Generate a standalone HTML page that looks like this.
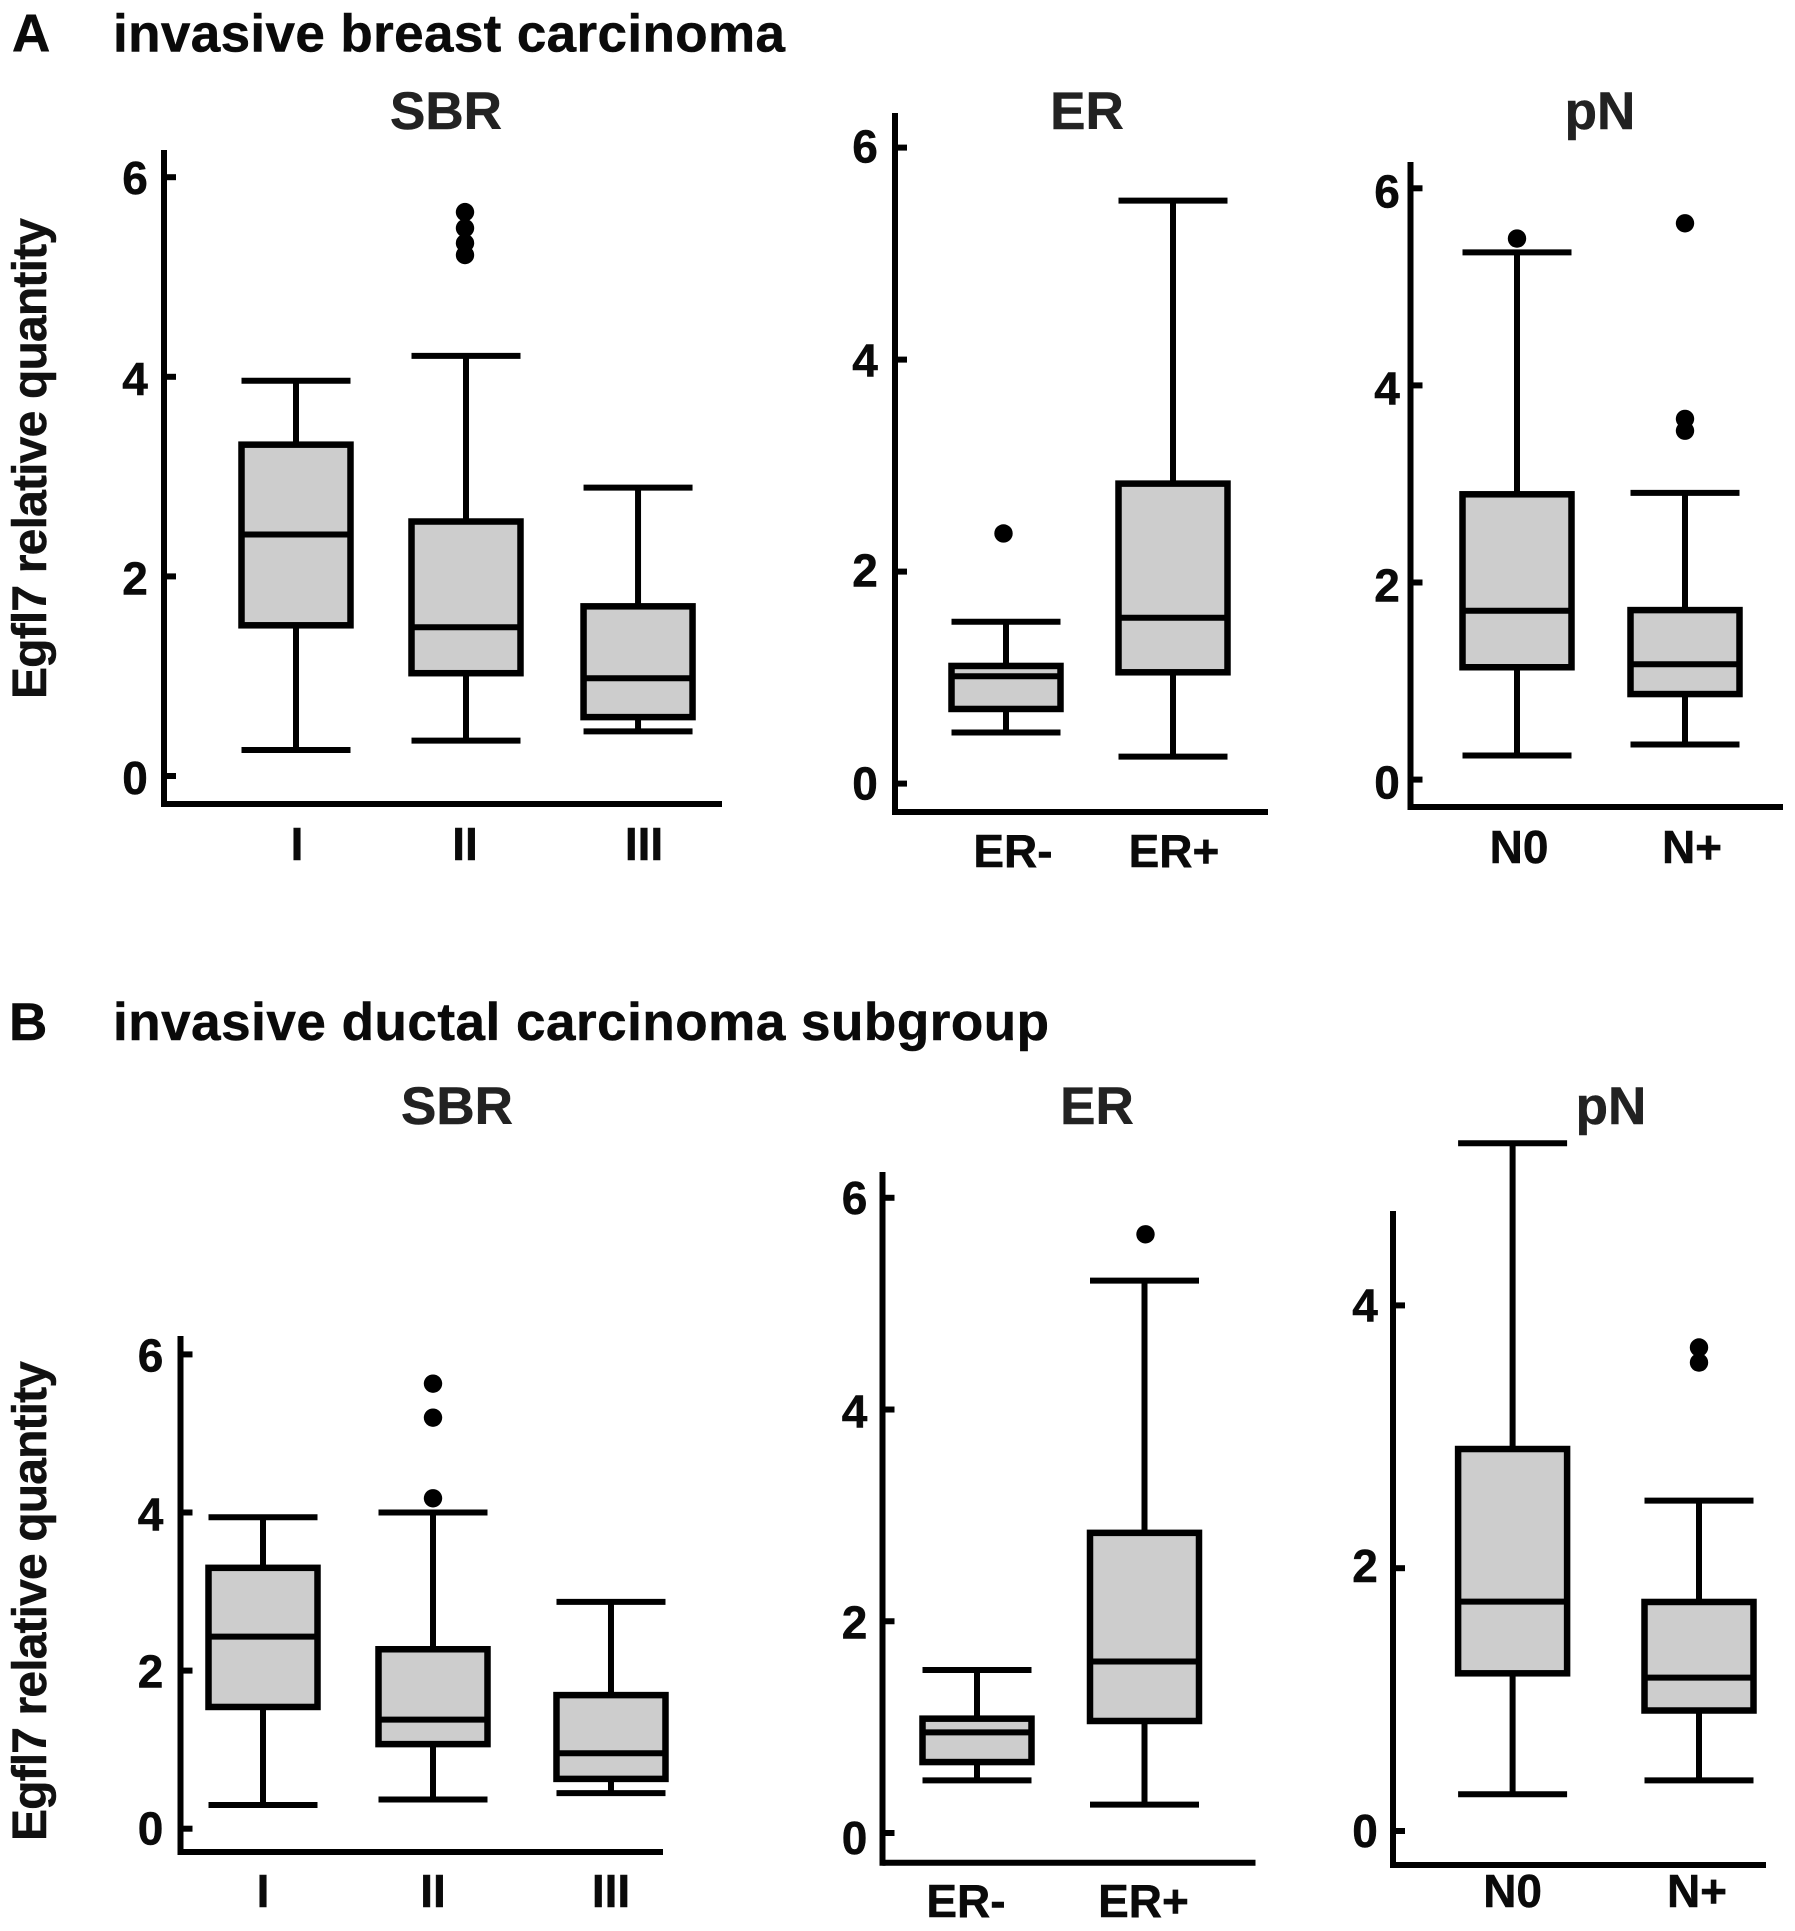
<!DOCTYPE html>
<html lang="en">
<head>
<meta charset="utf-8">
<title>Egfl7 relative quantity box plots</title>
<style>
  html, body { margin: 0; padding: 0; background: #ffffff; }
  svg { display: block; font-family: "Liberation Sans", Arial, sans-serif; font-weight: bold; }
  text { fill: #0a0a0a; stroke: #0a0a0a; stroke-width: 0.5px; }
  .panel-title { fill: #222222; stroke: #222222; font-size: 53px; text-anchor: middle; }
  .heading { font-size: 53px; }
  .y-title { font-size: 48px; fill: #111111; stroke: #111111; }
</style>
</head>
<body>
<svg id="figure" xmlns="http://www.w3.org/2000/svg" width="1795" height="1931" viewBox="0 0 1795 1931">
  <rect x="0" y="0" width="1795" height="1931" fill="#ffffff"/>

  <text class="heading" x="12" y="51.5">A</text>
  <text class="heading" x="113" y="51.5" textLength="672">invasive breast carcinoma</text>
  <text class="heading" x="9" y="1040">B</text>
  <text class="heading" x="113" y="1040" textLength="936">invasive ductal carcinoma subgroup</text>

  <text class="panel-title" x="446" y="129">SBR</text>
  <text class="panel-title" x="1087" y="129">ER</text>
  <text class="panel-title" x="1600" y="129">pN</text>
  <text class="panel-title" x="457" y="1124">SBR</text>
  <text class="panel-title" x="1097" y="1124">ER</text>
  <text class="panel-title" x="1611" y="1124">pN</text>

  <text class="y-title" transform="translate(46 699) rotate(-90)" textLength="481">Egfl7 relative quantity</text>
  <text class="y-title" transform="translate(46 1841) rotate(-90)" textLength="480">Egfl7 relative quantity</text>
</svg>

<script>
// ---- Section A, SBR ----
const aSbrCategories = ['I', 'II', 'III'];
const aSbrQ1 = [1.51, 1.03, 0.59];
const aSbrMedian = [2.42, 1.49, 0.98];
const aSbrQ3 = [3.32, 2.55, 1.70];
const aSbrLow = [0.26, 0.355, 0.447];
const aSbrHigh = [3.96, 4.21, 2.89];
const aSbrOutliers = [[], [5.65, 5.49, 5.34, 5.22], []];
const aSbrTicks = [0, 2, 4, 6];

// ---- Section A, ER ----
const aErCategories = ['ER-', 'ER+'];
const aErQ1 = [0.704, 1.05];
const aErMedian = [1.013, 1.565];
const aErQ3 = [1.11, 2.83];
const aErLow = [0.482, 0.255];
const aErHigh = [1.527, 5.50];
const aErOutliers = [[2.36], []];
const aErTicks = [0, 2, 4, 6];

// ---- Section A, pN ----
const aPnCategories = ['N0', 'N+'];
const aPnQ1 = [1.14, 0.868];
const aPnMedian = [1.713, 1.17];
const aPnQ3 = [2.895, 1.72];
const aPnLow = [0.245, 0.356];
const aPnHigh = [5.35, 2.91];
const aPnOutliers = [[5.49], [5.645, 3.66, 3.54]];
const aPnTicks = [0, 2, 4, 6];

// ---- Section B, SBR ----
const bSbrCategories = ['I', 'II', 'III'];
const bSbrQ1 = [1.54, 1.07, 0.63];
const bSbrMedian = [2.43, 1.38, 0.955];
const bSbrQ3 = [3.30, 2.27, 1.69];
const bSbrLow = [0.30, 0.37, 0.45];
const bSbrHigh = [3.94, 4.00, 2.87];
const bSbrOutliers = [[], [5.63, 5.20, 4.18], []];
const bSbrTicks = [0, 2, 4, 6];

// ---- Section B, ER ----
const bErCategories = ['ER-', 'ER+'];
const bErQ1 = [0.67, 1.058];
const bErMedian = [0.95, 1.62];
const bErQ3 = [1.08, 2.835];
const bErLow = [0.497, 0.268];
const bErHigh = [1.54, 5.217];
const bErOutliers = [[], [5.655]];
const bErTicks = [0, 2, 4, 6];

// ---- Section B, pN ----
const bPnCategories = ['N0', 'N+'];
const bPnQ1 = [1.20, 0.917];
const bPnMedian = [1.746, 1.167];
const bPnQ3 = [2.907, 1.743];
const bPnLow = [0.28, 0.385];
const bPnHigh = [5.234, 2.514];
const bPnOutliers = [[], [3.68, 3.565]];
const bPnTicks = [0, 2, 4];

const SVG_NS = 'http://www.w3.org/2000/svg';
const figure = document.getElementById('figure');

function make(tag, parent, attrs) {
  const node = document.createElementNS(SVG_NS, tag);
  Object.keys(attrs).forEach(function (k) { node.setAttribute(k, attrs[k]); });
  parent.appendChild(node);
  return node;
}

function drawPanel(id, data, frame) {
  // axis functions
  const yOf = function (v) { return frame.yZero - frame.unit * v; };
  const xOf = function (i) { return frame.xFirst + frame.step * frame.slots[i]; };

  const panel = make('g', figure, {});
  
  

  const yAxis = make('line', panel, { x1: frame.left, x2: frame.left, y1: frame.top, y2: frame.bottom + 3, stroke: '#000', 'stroke-width': 6 });
  
  

  const xAxis = make('line', panel, { x1: frame.left, x2: frame.right, y1: frame.bottom, y2: frame.bottom, stroke: '#000', 'stroke-width': 6 });
  
  

  data.ticks.forEach(function (t, k) {
    const tick = make('line', panel, { x1: frame.left, x2: frame.left + 12, y1: yOf(t), y2: yOf(t), stroke: '#000', 'stroke-width': 6 });
    
    

    const tickLabel = make('text', panel, { x: frame.left - frame.tickGap, y: yOf(t) + 16 + frame.tickNudge[k], 'text-anchor': 'middle', 'font-size': 46 });
    tickLabel.textContent = String(t);
    
    
  });

  data.categories.forEach(function (cat, i) {
    const cx = xOf(i);
    const halfBox = 54.5;

    const group = make('g', panel, {});
    
    

    const stem = make('line', group, { x1: cx, x2: cx, y1: yOf(data.high[i]), y2: yOf(data.low[i]), stroke: '#000', 'stroke-width': 6 });
    
    

    const capHigh = make('line', group, { x1: cx - halfBox, x2: cx + halfBox, y1: yOf(data.high[i]), y2: yOf(data.high[i]), stroke: '#000', 'stroke-width': 6 });
    
    

    const capLow = make('line', group, { x1: cx - halfBox, x2: cx + halfBox, y1: yOf(data.low[i]), y2: yOf(data.low[i]), stroke: '#000', 'stroke-width': 6 });
    
    

    const box = make('rect', group, { x: cx - halfBox, y: yOf(data.q3[i]), width: halfBox * 2, height: yOf(data.q1[i]) - yOf(data.q3[i]), fill: '#cdcdcd', stroke: '#000', 'stroke-width': 6.5 });
    
    

    const med = make('line', group, { x1: cx - halfBox, x2: cx + halfBox, y1: yOf(data.median[i]), y2: yOf(data.median[i]), stroke: '#000', 'stroke-width': 6 });
    
    

    data.outliers[i].forEach(function (v) {
      const dot = make('circle', group, { cx: cx + frame.dotShift[i], cy: yOf(v), r: 9.2, fill: '#000' });
      
      
    });

    const catLabel = make('text', panel, { x: cx + frame.labelShift[i], y: frame.labelY, 'text-anchor': 'middle', 'font-size': 46 });
    catLabel.textContent = cat;
    
    
  });
}

drawPanel('a-sbr',
  { categories: aSbrCategories, q1: aSbrQ1, median: aSbrMedian, q3: aSbrQ3, low: aSbrLow, high: aSbrHigh, outliers: aSbrOutliers, ticks: aSbrTicks },
  { left: 164, right: 722, top: 150, bottom: 804, yZero: 776, unit: 99.8, xFirst: 296, step: 170, slots: [0, 1, 2.012], labelShift: [1, -1, 6], dotShift: [0, -1, 0], labelY: 860, tickGap: 29, tickNudge: [2, 2, 2, 1] });

drawPanel('a-er',
  { categories: aErCategories, q1: aErQ1, median: aErMedian, q3: aErQ3, low: aErLow, high: aErHigh, outliers: aErOutliers, ticks: aErTicks },
  { left: 895, right: 1268, top: 113, bottom: 812, yZero: 783.6, unit: 106, xFirst: 1006, step: 167, slots: [0, 1], labelShift: [7, 1], dotShift: [-2.5, 0], labelY: 867, tickGap: 30, tickNudge: [0, -1, 1, -1] });

drawPanel('a-pn',
  { categories: aPnCategories, q1: aPnQ1, median: aPnMedian, q3: aPnQ3, low: aPnLow, high: aPnHigh, outliers: aPnOutliers, ticks: aPnTicks },
  { left: 1410.5, right: 1783, top: 162, bottom: 807, yZero: 779.6, unit: 98.55, xFirst: 1517, step: 168, slots: [0, 1], labelShift: [2, 7], dotShift: [0, 0], labelY: 863, tickGap: 23.5, tickNudge: [3, 3, 3, 3] });

drawPanel('b-sbr',
  { categories: bSbrCategories, q1: bSbrQ1, median: bSbrMedian, q3: bSbrQ3, low: bSbrLow, high: bSbrHigh, outliers: bSbrOutliers, ticks: bSbrTicks },
  { left: 180.5, right: 663, top: 1336, bottom: 1852, yZero: 1828.7, unit: 79.05, xFirst: 263, step: 170, slots: [0, 1, 2.047], labelShift: [0, 0, 0], dotShift: [0, 0, 0], labelY: 1907, tickGap: 30, tickNudge: [0, 1, 2, 1] });

drawPanel('b-er',
  { categories: bErCategories, q1: bErQ1, median: bErMedian, q3: bErQ3, low: bErLow, high: bErHigh, outliers: bErOutliers, ticks: bErTicks },
  { left: 882.5, right: 1255.5, top: 1172, bottom: 1862.8, yZero: 1833, unit: 105.87, xFirst: 977, step: 167.5, slots: [0, 1], labelShift: [-11, -1], dotShift: [0, 1], labelY: 1917, tickGap: 28, tickNudge: [5, 1, 2, 0] });

drawPanel('b-pn',
  { categories: bPnCategories, q1: bPnQ1, median: bPnMedian, q3: bPnQ3, low: bPnLow, high: bPnHigh, outliers: bPnOutliers, ticks: bPnTicks },
  { left: 1393, right: 1766, top: 1211, bottom: 1865, yZero: 1831, unit: 131.4, xFirst: 1512.6, step: 186.4, slots: [0, 1], labelShift: [0, -2], dotShift: [0, 0], labelY: 1907, tickGap: 28, tickNudge: [0, -2, 0] });
</script>
</body>
</html>
